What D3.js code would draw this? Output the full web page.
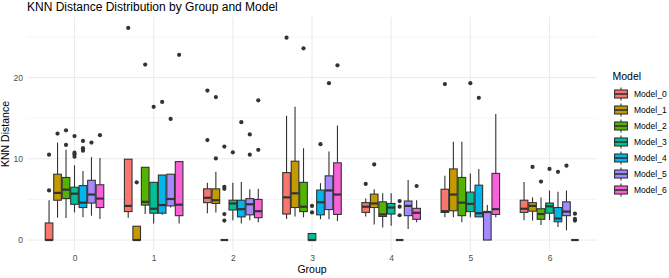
<!DOCTYPE html>
<html>
<head>
<meta charset="utf-8">
<script src="https://cdn.jsdelivr.net/npm/d3@7"></script>
<style>
  body { margin: 0; background: #fff; }
  text { font-family: "Liberation Sans", Arial, sans-serif; }
</style>
</head>
<body>
<svg id="chart" width="669" height="278"></svg>
<script>
// categories
let groups = ['0', '1', '2', '3', '4', '5', '6'];
let models = ['Model_0', 'Model_1', 'Model_2', 'Model_3', 'Model_4', 'Model_5', 'Model_6'];
let colors = ['#F8766D', '#C49A00', '#53B400', '#00C094', '#00B6EB', '#A58AFF', '#FB61D7'];
let yTicks = [0, 10, 20];
let yMinor = [5, 15, 25];

// box stats, one row per group, one entry per model
let lowerWhisker = [
    [0, 2.75, 2.7, 3.4, 2.8, 3.0, 2.6],
    [2.75, 0, 3.2, 2.05, 3.1, 4.0, 2.05],
    [3.3, 3.4, 0, 2.45, 2.05, 2.45, 2.2],
    [2.6, 2.9, 2.8, 0, 2.55, 2.55, 2.35],
    [2.9, 1.9, 1.55, 1.75, 0, 1.35, 2.2],
    [2.8, 2.8, 2.2, 2.8, 2.85, 0, 2.8],
    [2.45, 2.4, 1.85, 2.45, 1.6, 1.2, 0]
];
let q1 = [
    [0, 4.9, 5.1, 4.4, 4.0, 4.55, 4.0],
    [3.5, 0, 4.3, 3.3, 3.3, 4.2, 3.0],
    [4.6, 4.5, 0, 3.7, 2.85, 3.1, 2.75],
    [3.2, 4.0, 3.5, 0, 3.1, 3.75, 3.15],
    [3.4, 4.0, 2.9, 3.2, 0, 3.0, 2.55],
    [3.4, 3.6, 3.0, 3.5, 2.85, 0, 3.15],
    [3.4, 3.55, 2.55, 3.3, 2.25, 3.0, 0]
];
let medians = [
    [0, 5.8, 6.2, 5.7, 4.6, 5.6, 5.1],
    [4.2, 0, 4.7, 3.85, 4.3, 5.05, 4.35],
    [5.2, 4.9, 0, 4.5, 3.8, 4.4, 3.55],
    [5.25, 5.75, 4.1, 0, 4.65, 6.1, 5.6],
    [4.1, 4.5, 3.15, 4.0, 0, 4.2, 3.35],
    [3.55, 5.6, 4.6, 4.45, 3.3, 3.45, 3.8],
    [3.85, 4.2, 3.2, 4.15, 2.65, 3.5, 0]
];
let q3 = [
    [2.1, 8.1, 7.7, 6.5, 6.7, 7.35, 6.8],
    [9.95, 1.7, 8.95, 7.1, 8.0, 8.1, 9.65],
    [6.3, 6.3, 0, 4.9, 4.9, 5.1, 5.0],
    [8.3, 9.7, 7.1, 0.8, 6.15, 7.9, 9.5],
    [4.6, 5.65, 4.7, 4.5, 0, 4.8, 3.9],
    [6.25, 8.75, 7.7, 5.9, 6.75, 3.45, 8.2],
    [4.9, 4.6, 3.85, 4.55, 4.0, 4.7, 0]
];
let upperWhisker = [
    [4.9, 12.0, 11.1, 9.2, 8.5, 10.2, 10.1],
    [9.95, 1.7, 8.95, 7.1, 8.0, 8.1, 9.65],
    [7.05, 8.4, 0, 7.05, 7.15, 6.25, 6.3],
    [15.3, 16.4, 11.3, 0.8, 7.0, 10.9, 14.1],
    [5.1, 6.25, 5.75, 5.75, 0, 7.4, 4.9],
    [7.9, 12.1, 12.1, 8.2, 8.75, 4.3, 15.5],
    [7.15, 5.25, 5.25, 6.1, 5.95, 6.1, 0]
];
let outliers = [
    [[6.1, 10.5], [13.1], [13.5, 11.7], [12.8, 10.75, 10.55, 10.25], [12.2, 11.3, 11.0], [12.0], [12.9]],
    [[26.1], [7.1], [21.6], [16.4], [17.0], [14.9], [22.8]],
    [[18.4, 12.3], [17.6, 10.05], [11.5, 6.55, 6.3, 3.2, 2.4], [10.8], [14.5], [13.0, 10.5], [17.2, 11.1]],
    [[24.9], [], [23.6], [4.2, 3.4], [11.8], [19.3], [21.5]],
    [[6.9], [9.3], [], [], [4.8, 4.1, 3.05], [], [6.65]],
    [[19.2], [], [], [19.3], [17.5], [], []],
    [[], [9.0], [7.2], [8.75], [8.4], [9.15], [3.25, 2.6, 2.4]]
];

let svg = d3.select('#chart');
let panel = {l: 27, r: 597, t: 17, b: 251};
let lineCol = '#333333';

let xScale = d3.scalePoint().domain(groups).range([panel.l, panel.r]).padding(0.6);
let dodgeW = xScale.step() * 0.75;
let modelScale = d3.scaleBand().domain(models).range([-dodgeW / 2, dodgeW / 2]);
let boxW = modelScale.bandwidth() * 0.9;
let yScale = d3.scaleLinear().domain([-1.35, 27.45]).range([panel.b, panel.t]);

// grid
let grid = svg.append('g');
grid.selectAll('.minor').data(yMinor).enter().append('line')
    .attr('x1', panel.l).attr('x2', panel.r)
    .attr('y1', d => yScale(d)).attr('y2', d => yScale(d))
    .attr('stroke', '#EBEBEB').attr('stroke-width', 0.5);
grid.selectAll('.major').data(yTicks).enter().append('line')
    .attr('x1', panel.l).attr('x2', panel.r)
    .attr('y1', d => yScale(d)).attr('y2', d => yScale(d))
    .attr('stroke', '#EBEBEB').attr('stroke-width', 1);
grid.selectAll('.vmajor').data(groups).enter().append('line')
    .attr('x1', d => xScale(d)).attr('x2', d => xScale(d))
    .attr('y1', panel.t).attr('y2', panel.b)
    .attr('stroke', '#EBEBEB').attr('stroke-width', 1);

// axes (text only, like theme_minimal)
let yAxis = d3.axisLeft(yScale).tickValues(yTicks).tickSize(0).tickPadding(4);
svg.append('g').attr('transform', 'translate(' + panel.l + ',0)').call(yAxis)
    .call(g => g.select('.domain').remove())
    .selectAll('text').attr('fill', '#4D4D4D').attr('font-size', '8.5px')
    .attr('font-family', '"Liberation Sans", Arial, sans-serif');

let xAxis = d3.axisBottom(xScale).tickSize(0).tickPadding(4);
svg.append('g').attr('transform', 'translate(0,' + panel.b + ')').call(xAxis)
    .call(g => g.select('.domain').remove())
    .selectAll('text').attr('fill', '#4D4D4D').attr('font-size', '8.5px')
    .attr('font-family', '"Liberation Sans", Arial, sans-serif');

// boxes
let boxes = [];
groups.forEach((g, gi) => {
    models.forEach((m, mi) => {
        boxes.push({
            g: g, m: m, color: colors[mi],
            lw: lowerWhisker[gi][mi], q1: q1[gi][mi], med: medians[gi][mi],
            q3: q3[gi][mi], uw: upperWhisker[gi][mi], out: outliers[gi][mi]
        });
    });
});

let cx = d => xScale(d.g) + modelScale(d.m) + modelScale.bandwidth() / 2;

let bg = svg.append('g').selectAll('g').data(boxes).enter().append('g');

bg.append('line')
    .attr('x1', cx).attr('x2', cx)
    .attr('y1', d => yScale(d.uw)).attr('y2', d => yScale(d.q3))
    .attr('stroke', lineCol).attr('stroke-width', 1.1);
bg.append('line')
    .attr('x1', cx).attr('x2', cx)
    .attr('y1', d => yScale(d.q1)).attr('y2', d => yScale(d.lw))
    .attr('stroke', lineCol).attr('stroke-width', 1.1);
bg.append('rect')
    .attr('x', d => cx(d) - boxW / 2)
    .attr('y', d => yScale(d.q3))
    .attr('width', boxW)
    .attr('height', d => yScale(d.q1) - yScale(d.q3))
    .attr('fill', d => d.color)
    .attr('stroke', lineCol).attr('stroke-width', 1.1);
bg.append('line')
    .attr('x1', d => cx(d) - boxW / 2).attr('x2', d => cx(d) + boxW / 2)
    .attr('y1', d => yScale(d.med)).attr('y2', d => yScale(d.med))
    .attr('stroke', lineCol).attr('stroke-width', 2.2);
bg.selectAll('circle').data(d => d.out.map(v => ({v: v, d: d}))).enter().append('circle')
    .attr('cx', o => cx(o.d)).attr('cy', o => yScale(o.v))
    .attr('r', 2.1).attr('fill', lineCol);

// titles
svg.append('text').text('KNN Distance Distribution by Group and Model')
    .attr('x', panel.l).attr('y', 11).attr('font-size', '12px').attr('fill', '#000');
svg.append('text').text('Group')
    .attr('x', (panel.l + panel.r) / 2).attr('y', 273)
    .attr('text-anchor', 'middle').attr('font-size', '10.5px').attr('fill', '#000');
svg.append('text').text('KNN Distance')
    .attr('transform', 'translate(8.5,' + (panel.t + panel.b) / 2 + ') rotate(-90)')
    .attr('text-anchor', 'middle').attr('font-size', '10.5px').attr('fill', '#000');

// legend
let legend = svg.append('g').attr('transform', 'translate(612,0)');
legend.append('text').text('Model').attr('x', 0.5).attr('y', 80)
    .attr('font-size', '10.5px').attr('fill', '#000');
let key = 16;
let items = legend.selectAll('.item').data(models).enter().append('g')
    .attr('transform', (d, i) => 'translate(1,' + (86 + i * key) + ')');
items.append('line')
    .attr('x1', key / 2).attr('x2', key / 2).attr('y1', key * 0.1).attr('y2', key * 0.9)
    .attr('stroke', lineCol).attr('stroke-width', 1.1);
items.append('rect')
    .attr('x', key * 0.1).attr('y', key * 0.25).attr('width', key * 0.8).attr('height', key * 0.5)
    .attr('fill', (d, i) => colors[i]).attr('stroke', lineCol).attr('stroke-width', 1.1);
items.append('line')
    .attr('x1', key * 0.1).attr('x2', key * 0.9).attr('y1', key / 2).attr('y2', key / 2)
    .attr('stroke', lineCol).attr('stroke-width', 1.6);
items.append('text').text(d => d)
    .attr('x', key + 5).attr('y', key / 2 + 3)
    .attr('font-size', '8.5px').attr('fill', '#000');
</script>
</body>
</html>
